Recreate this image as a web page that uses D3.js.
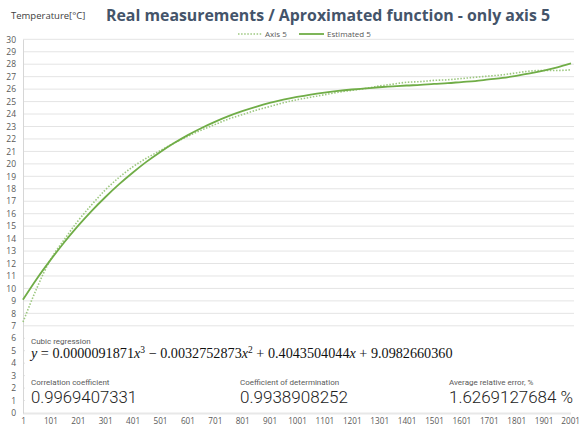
<!DOCTYPE html>
<html lang="en">
<head>
    <meta charset="UTF-8">
    <title>Axis 5 - cubic fit</title>
    <style>
        body { margin: 0; background: #fff; }
        svg { display: block; }
    </style>
</head>
<body>
    <svg width="580" height="429"></svg>

    <script src="https://d3js.org/d3.v7.min.js"></script>
    <script>
        // sample positions (x axis index) for both series
        var samples = [1, 51, 101, 151, 201, 251, 301, 351, 401, 451, 501, 551, 601, 651, 701, 751, 801, 851, 901, 951,
            1001, 1051, 1101, 1151, 1201, 1251, 1301, 1351, 1401, 1451, 1501, 1551, 1601, 1651, 1701, 1751, 1801, 1851, 1901, 1951, 2001];

        var axis5 = [7.3, 10.0, 12.3, 13.9, 15.4, 16.7, 17.9, 18.9, 19.75, 20.45, 21.05, 21.65, 22.2, 22.7, 23.15, 23.6, 23.95, 24.3, 24.6, 24.9,
            25.15, 25.35, 25.55, 25.75, 25.9, 26.05, 26.25, 26.4, 26.55, 26.6, 26.7, 26.75, 26.85, 26.95, 27.05, 27.15, 27.3, 27.45, 27.5, 27.5, 27.55];

        // Estimated 5 - approximated (cubic) curve
        var estimated5 = [9.1, 10.76, 12.27, 13.69, 15.0, 16.21, 17.32, 18.35, 19.29, 20.16, 20.94, 21.65, 22.29, 22.86, 23.37, 23.83, 24.23, 24.58, 24.89, 25.15,
            25.37, 25.56, 25.72, 25.86, 25.97, 26.06, 26.15, 26.22, 26.29, 26.34, 26.42, 26.48, 26.57, 26.65, 26.78, 26.9, 27.07, 27.26, 27.48, 27.75, 28.06];

        var xTicks = [1, 101, 201, 301, 401, 501, 601, 701, 801, 901, 1001, 1101, 1201, 1301, 1401, 1501, 1601, 1701, 1801, 1901, 2001];
        var yTicks = [0, 1, 2, 3, 4, 5, 6, 7, 8, 9, 10, 11, 12, 13, 14, 15, 16, 17, 18, 19, 20, 21, 22, 23, 24, 25, 26, 27, 28, 29, 30];

        var stats = [
            {label: 'Correlation coefficient', value: '0.9969407331', x: 31, w: 106},
            {label: 'Coefficient of determination', value: '0.9938908252', x: 240, w: 108},
            {label: 'Average relative error, %', value: '1.6269127684 %', x: 449, w: 124}
        ];

        var svg = d3.select('svg');
        var plotLeft = 23, plotRight = 571, plotTop = 39.3, plotBottom = 413;
        var grey = '#595959';

        var x = d3.scaleLinear().domain([1, 2001]).range([plotLeft, plotRight]);
        var y = d3.scaleLinear().domain([0, 30]).range([plotBottom, plotTop]);

        // grid
        svg.append('g').selectAll('line')
            .data(yTicks.filter(function(d){ return d > 0; }))
            .enter().append('line')
            .attr('x1', plotLeft).attr('x2', plotRight + 3)
            .attr('y1', function(d){ return y(d); }).attr('y2', function(d){ return y(d); })
            .attr('stroke', '#e4e4e4').attr('stroke-width', 1);

        // y axis
        var yAxis = svg.append('g')
            .attr('transform', 'translate(' + plotLeft + ',0)')
            .call(d3.axisLeft(y).tickValues(yTicks).tickSize(0).tickPadding(7));
        yAxis.select('.domain').attr('stroke', '#d6d6d6');
        yAxis.selectAll('text').attr('fill', grey).attr('font-family', 'Open Sans, sans-serif').attr('font-size', 8.5);

        // x axis
        var xAxis = svg.append('g')
            .attr('transform', 'translate(0,' + plotBottom + ')')
            .call(d3.axisBottom(x).tickValues(xTicks).tickFormat(d3.format('d')).tickSize(0).tickPadding(5));
        xAxis.select('.domain').attr('stroke', '#d0d0d0').attr('stroke-width', 2).attr('stroke-dasharray', '1,1');
        xAxis.selectAll('text').attr('fill', grey).attr('font-family', 'Open Sans, sans-serif').attr('font-size', 8.2);
        xAxis.selectAll('.tick:last-of-type text').attr('text-anchor', 'end').attr('dx', 8.5);

        var line = d3.line()
            .x(function(d){ return x(d[0]); })
            .y(function(d){ return y(d[1]); })
            .curve(d3.curveMonotoneX);

        svg.append('path')
            .datum(d3.zip(samples, axis5))
            .attr('d', line)
            .attr('fill', 'none')
            .attr('stroke', '#9cc77f')
            .attr('stroke-width', 1.6)
            .attr('stroke-dasharray', '1.5,1.6');

        svg.append('path')
            .datum(d3.zip(samples, estimated5))
            .attr('d', line)
            .attr('fill', 'none')
            .attr('stroke', '#70ad47')
            .attr('stroke-width', 1.8);

        // regression box over the lower part of the plot
        svg.append('rect')
            .attr('x', plotLeft + 2).attr('y', 331)
            .attr('width', plotRight - plotLeft + 2).attr('height', 78)
            .attr('fill', '#fff');

        svg.append('text')
            .attr('x', 31).attr('y', 343.5)
            .attr('font-family', 'Roboto, sans-serif').attr('font-size', 8).attr('fill', grey)
            .text('Cubic regression');

        var f = svg.append('text')
            .attr('x', 31).attr('y', 358)
            .attr('font-family', 'Liberation Serif, serif').attr('font-size', 14.2).attr('fill', '#111')
            .style('white-space', 'pre');
        var parts = [
            ['y', 'i'], [' = 0.0000091871', ''], ['x', 'i'], ['3', 's'],
            [' \u2212 0.0032752873', ''], ['x', 'i'], ['2', 's'],
            [' + 0.4043504044', ''], ['x', 'i'], [' + 9.0982660360', '']
        ];
        parts.forEach(function(p, i){
            var t = f.append('tspan').text(p[0]);
            if (p[1] == 'i') t.attr('font-style', 'italic');
            if (p[1] == 's') t.attr('font-size', 9.5).attr('dy', -4.8);
            else if (i > 0 && parts[i - 1][1] == 's') t.attr('dy', 4.8);
        });

        var st = svg.append('g').selectAll('g').data(stats).enter().append('g');
        st.append('text')
            .attr('x', function(d){ return d.x; }).attr('y', 384.5)
            .attr('font-family', 'Roboto, sans-serif').attr('font-size', 8).attr('fill', grey)
            .text(function(d){ return d.label; });
        st.append('text')
            .attr('x', function(d){ return d.x; }).attr('y', 403)
            .attr('font-family', 'Roboto, sans-serif').attr('font-weight', 300).attr('font-size', 17).attr('fill', '#222')
            .attr('textLength', function(d){ return d.w; }).attr('lengthAdjust', 'spacingAndGlyphs')
            .text(function(d){ return d.value; });

        // titles
        svg.append('text')
            .attr('x', 11).attr('y', 18.5)
            .attr('font-family', 'Open Sans, sans-serif').attr('font-size', 9.5).attr('fill', '#404040')
            .text('Temperature[\u00b0C]');

        svg.append('text')
            .attr('x', 106).attr('y', 21)
            .attr('font-family', 'Open Sans, sans-serif').attr('font-weight', 'bold').attr('font-size', 16.5).attr('fill', '#44546a')
            .attr('textLength', 444).attr('lengthAdjust', 'spacingAndGlyphs')
            .text('Real measurements / Aproximated function - only axis 5');

        // legend
        var legend = svg.append('g').attr('transform', 'translate(0,34)');
        legend.append('line').attr('x1', 238).attr('x2', 262).attr('y1', 0).attr('y2', 0)
            .attr('stroke', '#9cc77f').attr('stroke-width', 1.6).attr('stroke-dasharray', '1.5,1.6');
        legend.append('text').attr('x', 265).attr('y', 3)
            .attr('font-family', 'Open Sans, sans-serif').attr('font-size', 8).attr('fill', grey)
            .text('Axis 5');
        legend.append('line').attr('x1', 299).attr('x2', 324).attr('y1', 0).attr('y2', 0)
            .attr('stroke', '#70ad47').attr('stroke-width', 1.8);
        legend.append('text').attr('x', 327).attr('y', 3)
            .attr('font-family', 'Open Sans, sans-serif').attr('font-size', 8).attr('fill', grey)
            .text('Estimated 5');
    </script>
</body>
</html>
